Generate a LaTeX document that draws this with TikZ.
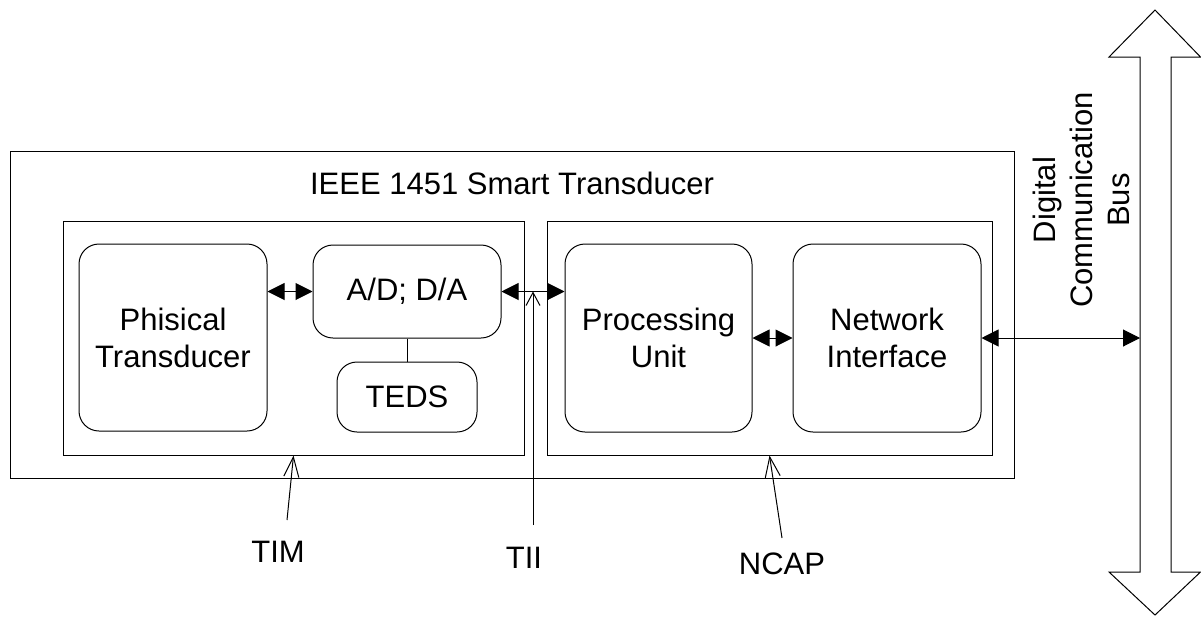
\documentclass[tikz,border=0pt]{standalone}
\usepackage{fontspec}
\setmainfont{Liberation Sans}
\usetikzlibrary{arrows.meta}
\begin{document}
\begin{tikzpicture}[x=1pt,y=-1pt,
  every node/.style={font=\fontsize{31}{37}\selectfont, inner sep=0pt},
  frame/.style={draw, line width=1pt},
  block/.style={draw, line width=1pt, rounded corners=20pt, align=center},
  both/.style={line width=1pt, {Triangle[length=17pt,width=17pt]}-{Triangle[length=17pt,width=17pt]}},
  pointer/.style={line width=1pt, -{Straight Barb[length=20pt,width=15pt,line width=1pt]}},
  smallpointer/.style={line width=1pt, -{Straight Barb[length=13pt,width=14pt,line width=1pt]}},
  lbl/.style={}
]
\useasboundingbox (0,0) rectangle (1201,616);

% frames
\node[frame, minimum width=1004pt, minimum height=327pt] (outer) at (512,314.5) {};
\node[frame, minimum width=461pt, minimum height=234pt] (tim) at (293.5,338) {};
\node[frame, minimum width=445pt, minimum height=234pt] (ncap) at (769.5,338) {};
\node[lbl] (title) at (512,183) {IEEE 1451 Smart Transducer};

% blocks
\node[block, minimum width=188pt, minimum height=187pt] (phys) at (173,337.5) {Phisical\\Transducer};
\node[block, minimum width=188pt, minimum height=93pt] (ad) at (407,291.5) {A/D; D/A};
\node[block, minimum width=140pt, minimum height=70pt] (teds) at (407,397) {TEDS};
\node[block, minimum width=187pt, minimum height=188pt] (proc) at (658.5,338) {Processing\\Unit};
\node[block, minimum width=188pt, minimum height=188pt] (net) at (887,338) {Network\\Interface};

% bus
\draw[line width=1pt] (1140,57) -- (1109,57) -- (1155,10) -- (1200.5,57) -- (1171,57)
  -- (1171,572) -- (1200.5,572) -- (1155,615) -- (1109,572) -- (1140,572) -- cycle;
\coordinate (bus) at (1140,338);
\node[rotate=90, align=center] (buslabel) at (1081,200) {Digital\\Communication\\Bus};

% connectors
\draw[both] (phys.east |- ad.west) -- (ad.west);
\draw[both] (ad.east) -- (ad.east -| proc.west);
\draw[line width=1pt] (ad.south) -- (teds.north);
\draw[both] (proc.east) -- (net.west);
\draw[both] (net.east) -- (bus);

% pointers
\coordinate (timfoot) at (287,520);
\coordinate (tiifoot) at (533,525);
\coordinate (ncapfoot) at (782,538);
\draw[pointer] (timfoot) -- (tim.south);
\draw[smallpointer] (tiifoot) -- (tiifoot |- ad.east);
\draw[pointer] (ncapfoot) -- (ncap.south);
\node[lbl] (timlabel) at (278,552) {TIM};
\node[lbl] (tiilabel) at (524,558) {TII};
\node[lbl] (ncaplabel) at (782,564) {NCAP};
\end{tikzpicture}
\end{document}
